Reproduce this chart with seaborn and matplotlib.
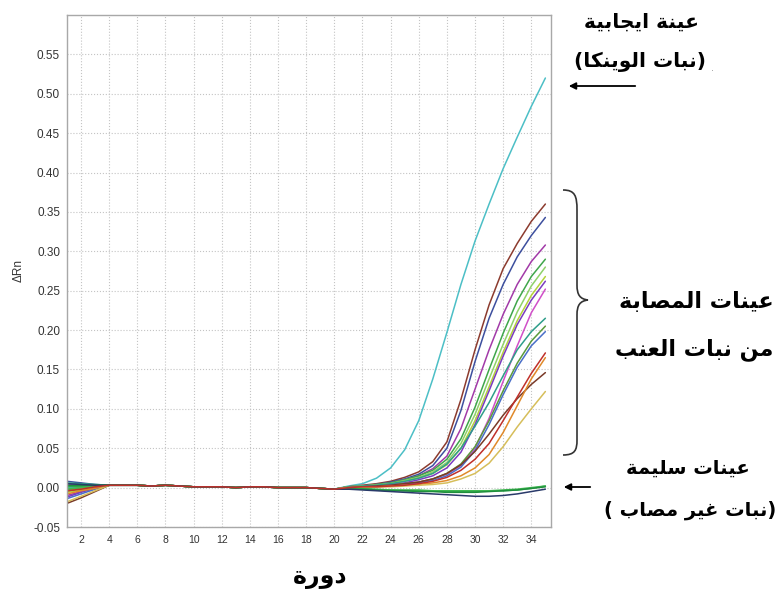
import numpy as np
import pandas as pd
import matplotlib
matplotlib.use("Agg")
import matplotlib.pyplot as plt
import seaborn as sns
from matplotlib.path import Path
from matplotlib.patches import PathPatch

# qPCR amplification curves (delta Rn per cycle)
cycles = list(range(1, 36))

# flat part shared by every well, cycles 4-20
plateau = [0.003, 0.003, 0.003, 0.002, 0.003, 0.002, 0.001, 0.001, 0.001,
           0.0, 0.001, 0.001, 0.0, 0.0, 0.0, -0.001, -0.002]

# cycles 1-3
heads = {
    "positive":   [0.0, 0.001, 0.002],
    "brown1":     [-0.005, -0.002, 0.001],
    "blue1":      [0.008, 0.006, 0.004],
    "magenta1":   [-0.01, -0.005, 0.0],
    "green1":     [0.002, 0.002, 0.003],
    "lightgreen": [-0.003, -0.001, 0.001],
    "yellowgreen": [-0.006, -0.003, 0.0],
    "purple":     [-0.012, -0.006, -0.001],
    "pink":       [0.004, 0.003, 0.003],
    "teal":       [0.006, 0.005, 0.004],
    "darkgreen":  [-0.002, 0.0, 0.002],
    "bluelate":   [-0.014, -0.008, -0.002],
    "brownlate":  [-0.02, -0.013, -0.005],
    "orange":     [-0.008, -0.004, -0.001],
    "khaki":      [-0.018, -0.011, -0.004],
    "healthy1":   [0.001, 0.002, 0.003],
    "healthy2":   [-0.002, 0.0, 0.002],
    "healthy3":   [0.003, 0.003, 0.003],
    "healthy4":   [0.005, 0.004, 0.003],
    "red":        [-0.004, -0.002, 0.001],
}

# cycles 21-35
tails = {
    "positive":   [0.002, 0.005, 0.012, 0.025, 0.048, 0.085, 0.138, 0.197, 0.258, 0.313, 0.36, 0.405, 0.445, 0.484, 0.52],
    "brown1":     [0.001, 0.003, 0.005, 0.008, 0.013, 0.02, 0.033, 0.058, 0.112, 0.175, 0.232, 0.278, 0.31, 0.338, 0.36],
    "blue1":      [0.001, 0.002, 0.004, 0.007, 0.011, 0.017, 0.028, 0.05, 0.098, 0.16, 0.215, 0.258, 0.293, 0.32, 0.343],
    "magenta1":   [0.001, 0.002, 0.004, 0.006, 0.01, 0.015, 0.024, 0.04, 0.075, 0.125, 0.175, 0.22, 0.258, 0.287, 0.308],
    "green1":     [0.001, 0.002, 0.004, 0.006, 0.01, 0.015, 0.022, 0.036, 0.062, 0.102, 0.15, 0.196, 0.237, 0.268, 0.29],
    "lightgreen": [0.001, 0.002, 0.003, 0.005, 0.009, 0.013, 0.02, 0.032, 0.056, 0.093, 0.138, 0.182, 0.223, 0.256, 0.28],
    "yellowgreen": [0.001, 0.002, 0.003, 0.005, 0.008, 0.012, 0.018, 0.029, 0.05, 0.085, 0.128, 0.172, 0.212, 0.244, 0.268],
    "purple":     [0.0, 0.001, 0.002, 0.004, 0.006, 0.01, 0.015, 0.025, 0.045, 0.08, 0.123, 0.167, 0.207, 0.238, 0.262],
    "pink":       [0.0, 0.001, 0.002, 0.003, 0.005, 0.007, 0.011, 0.017, 0.028, 0.05, 0.088, 0.135, 0.18, 0.222, 0.252],
    "teal":       [0.001, 0.002, 0.003, 0.005, 0.008, 0.012, 0.018, 0.03, 0.05, 0.078, 0.108, 0.142, 0.175, 0.198, 0.215],
    "darkgreen":  [0.0, 0.001, 0.002, 0.003, 0.005, 0.007, 0.011, 0.018, 0.03, 0.052, 0.085, 0.123, 0.158, 0.186, 0.205],
    "bluelate":   [0.0, 0.001, 0.002, 0.003, 0.004, 0.006, 0.009, 0.015, 0.026, 0.047, 0.08, 0.118, 0.153, 0.18, 0.198],
    "brownlate":  [0.0, 0.001, 0.002, 0.003, 0.005, 0.007, 0.011, 0.018, 0.029, 0.046, 0.068, 0.092, 0.113, 0.131, 0.146],
    "orange":     [0.0, 0.0, 0.001, 0.002, 0.003, 0.004, 0.006, 0.009, 0.015, 0.025, 0.042, 0.07, 0.104, 0.138, 0.165],
    "khaki":      [0.0, 0.0, 0.001, 0.001, 0.002, 0.003, 0.004, 0.006, 0.011, 0.018, 0.031, 0.052, 0.077, 0.1, 0.122],
    "healthy1":   [-0.001, -0.002, -0.003, -0.003, -0.004, -0.004, -0.004, -0.005, -0.005, -0.005, -0.004, -0.004, -0.003, -0.001, 0.002],
    "healthy2":   [-0.001, -0.001, -0.002, -0.003, -0.003, -0.003, -0.004, -0.004, -0.004, -0.004, -0.004, -0.003, -0.002, 0.0, 0.002],
    "healthy3":   [-0.002, -0.002, -0.003, -0.004, -0.004, -0.005, -0.005, -0.006, -0.006, -0.006, -0.005, -0.004, -0.003, -0.001, 0.001],
    "healthy4":   [-0.002, -0.003, -0.004, -0.005, -0.006, -0.007, -0.008, -0.009, -0.01, -0.011, -0.011, -0.01, -0.008, -0.005, -0.002],
    "red":        [0.0, 0.001, 0.001, 0.002, 0.003, 0.005, 0.008, 0.013, 0.022, 0.036, 0.056, 0.085, 0.115, 0.145, 0.171],
}

colors = {
    "positive": "#4cbfc6", "brown1": "#8c3b2e", "blue1": "#3d4f9e",
    "magenta1": "#a23aa8", "green1": "#3fa64a", "lightgreen": "#8fd16a",
    "yellowgreen": "#b4d23a", "purple": "#7a3cc0", "pink": "#d04fc8",
    "teal": "#2e9e8a", "darkgreen": "#5a9a3a", "bluelate": "#4a6fc8",
    "brownlate": "#7a3a28", "orange": "#e0892a", "khaki": "#d6be5a",
    "healthy1": "#2ea84a", "healthy2": "#40b850", "healthy3": "#1f8f3c",
    "healthy4": "#2a3a6a", "red": "#c0302a",
}

rows = []
for name in heads:
    vals = heads[name] + plateau + tails[name]
    for c, v in zip(cycles, vals):
        rows.append((name, c, v))
df = pd.DataFrame(rows, columns=["well", "cycle", "dRn"])

# matplotlib does no arabic shaping, so pick the joined forms by hand
FORMS = {
    'ا': ('\uFE8D', '\uFE8E', None, None),
    'ب': ('\uFE8F', '\uFE90', '\uFE91', '\uFE92'),
    'ة': ('\uFE93', '\uFE94', None, None),
    'ت': ('\uFE95', '\uFE96', '\uFE97', '\uFE98'),
    'ج': ('\uFE9D', '\uFE9E', '\uFE9F', '\uFEA0'),
    'د': ('\uFEA9', '\uFEAA', None, None),
    'ر': ('\uFEAD', '\uFEAE', None, None),
    'س': ('\uFEB1', '\uFEB2', '\uFEB3', '\uFEB4'),
    'ص': ('\uFEB9', '\uFEBA', '\uFEBB', '\uFEBC'),
    'ع': ('\uFEC9', '\uFECA', '\uFECB', '\uFECC'),
    'غ': ('\uFECD', '\uFECE', '\uFECF', '\uFED0'),
    'ك': ('\uFED9', '\uFEDA', '\uFEDB', '\uFEDC'),
    'ل': ('\uFEDD', '\uFEDE', '\uFEDF', '\uFEE0'),
    'م': ('\uFEE1', '\uFEE2', '\uFEE3', '\uFEE4'),
    'ن': ('\uFEE5', '\uFEE6', '\uFEE7', '\uFEE8'),
    'و': ('\uFEED', '\uFEEE', None, None),
    'ي': ('\uFEF1', '\uFEF2', '\uFEF3', '\uFEF4'),
}

def arabic(text):
    out = []
    for i, ch in enumerate(text):
        if ch not in FORMS:
            out.append(ch)
            continue
        prev = text[i - 1] if i > 0 else ''
        nxt = text[i + 1] if i + 1 < len(text) else ''
        join_prev = prev in FORMS and FORMS[prev][2] is not None
        join_next = nxt in FORMS and FORMS[ch][2] is not None
        iso, fin, ini, med = FORMS[ch]
        if join_prev and join_next:
            out.append(med)
        elif join_prev:
            out.append(fin)
        elif join_next:
            out.append(ini)
        else:
            out.append(iso)
    return ''.join(reversed(out))

W, H = 783, 597
def fx(x):
    return x / W
def fy(y):
    return 1 - y / H

sns.set_style("white")
plt.rcParams['font.family'] = ['Liberation Sans', 'DejaVu Sans']

fig = plt.figure(figsize=(7.83, 5.97), dpi=100)
ax = fig.add_axes([fx(67), fy(527), fx(551) - fx(67), fy(15) - fy(527)])

sns.lineplot(data=df, x="cycle", y="dRn", hue="well", palette=colors,
             hue_order=list(heads.keys()), linewidth=1.1, legend=False, ax=ax)

ax.set_xlim(1.0, 35.4)
ax.set_ylim(-0.05, 0.60)
ax.set_xticks(range(2, 35, 2))
ax.set_yticks(np.arange(-0.05, 0.551, 0.05))
ax.set_yticklabels([f"{t:.2f}" for t in np.arange(-0.05, 0.551, 0.05)])
ax.grid(True, linestyle=':', color='#c4c4c4', linewidth=0.8)
ax.tick_params(axis='y', labelsize=8.5, length=3, colors='#a0a0a0', labelcolor='#333333', pad=2)
ax.tick_params(axis='x', labelsize=7.5, length=2, colors='#a0a0a0', labelcolor='#333333', pad=4)
for s in ax.spines.values():
    s.set_color('#a8a8a8')
    s.set_linewidth(1.0)
ax.set_xlabel("")
ax.set_ylabel("ΔRn", fontsize=8.5, color='#333333', labelpad=6)

ar = dict(family='DejaVu Sans', weight='bold', color='black', ha='center', va='center')

fig.text(fx(641), fy(22), arabic("عينة ايجابية"), fontsize=14.5, **ar)
fig.text(fx(640), fy(62), "(" + arabic("نبات الوينكا") + ")", fontsize=14.5, **ar)
fig.text(fx(713), fy(68), ".", fontsize=7, color='#999999', family='DejaVu Sans', ha='center', va='center')
fig.text(fx(696), fy(302), arabic("عينات المصابة"), fontsize=16, **ar)
fig.text(fx(694), fy(350), arabic("من نبات العنب"), fontsize=16, **ar)
fig.text(fx(688), fy(468), arabic("عينات سليمة"), fontsize=14, **ar)
fig.text(fx(690), fy(510), "( " + arabic("نبات غير مصاب") + ")", fontsize=14, **ar)
fig.text(fx(320), fy(577), arabic("دورة"), fontsize=17, **ar)

# arrows
ax.annotate("", xy=(fx(566), fy(86)), xytext=(fx(638), fy(86)), xycoords='figure fraction',
            textcoords='figure fraction',
            arrowprops=dict(arrowstyle='-|>', color='black', lw=1.3, mutation_scale=10))
ax.annotate("", xy=(fx(561), fy(487)), xytext=(fx(593), fy(487)), xycoords='figure fraction',
            textcoords='figure fraction',
            arrowprops=dict(arrowstyle='-|>', color='black', lw=1.3, mutation_scale=10))

# curly brace for the infected group
pts = [(563, 190), (575, 190), (577, 196), (577, 210),
       (577, 285),
       (577, 295), (580, 299), (588, 300),
       (580, 301), (577, 305), (577, 315),
       (577, 440),
       (577, 450), (575, 455), (563, 455)]
codes = [Path.MOVETO, Path.CURVE4, Path.CURVE4, Path.CURVE4,
         Path.LINETO,
         Path.CURVE4, Path.CURVE4, Path.CURVE4,
         Path.CURVE4, Path.CURVE4, Path.CURVE4,
         Path.LINETO,
         Path.CURVE4, Path.CURVE4, Path.CURVE4]
brace = Path([(fx(x), fy(y)) for x, y in pts], codes)
fig.add_artist(PathPatch(brace, transform=fig.transFigure, fill=False, color='#333333', lw=1.2))

fig.savefig("out.png", dpi=100)
